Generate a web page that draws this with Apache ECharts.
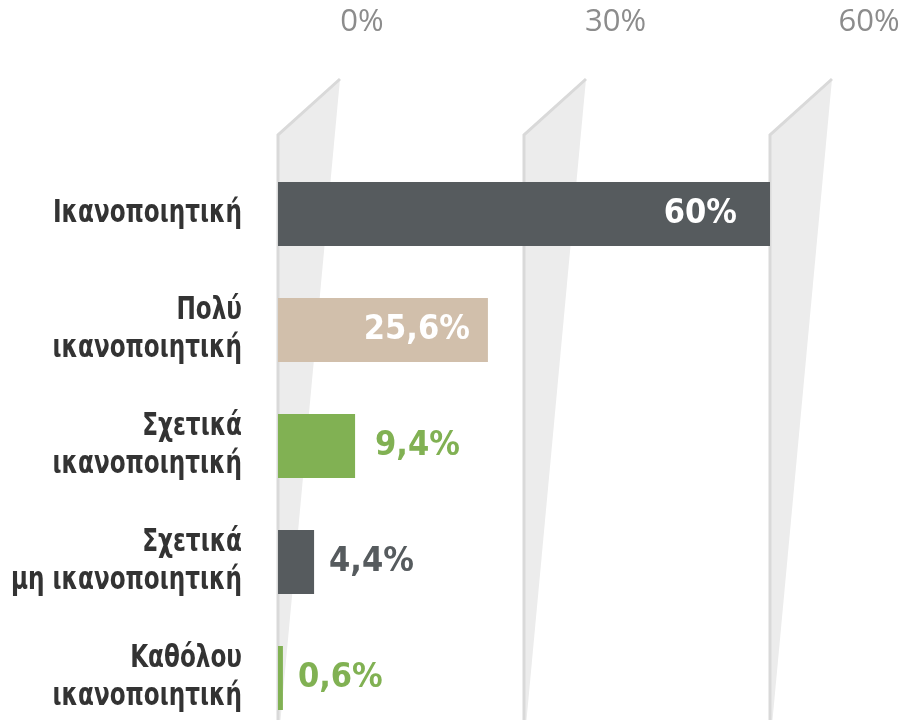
<!DOCTYPE html>
<html>
<head>
<meta charset="UTF-8">
<title>Ικανοποίηση</title>
<script src="https://cdn.jsdelivr.net/npm/echarts@6/dist/echarts.min.js"></script>
<style>
  html, body { margin: 0; padding: 0; background: #fff; }
  #main { width: 903px; height: 720px; }
</style>
</head>
<body>
<div id="main"></div>
<script type="text/javascript">
// κατηγορίες και τιμές
var categories = ['Ικανοποιητική', 'Πολύ\nικανοποιητική', 'Σχετικά\nικανοποιητική', 'Σχετικά\nμη ικανοποιητική', 'Καθόλου\nικανοποιητική'];
var values = [60, 25.6, 9.4, 4.4, 0.6];
var barColors = ['#565b5e', '#d1bfab', '#81b153', '#565b5e', '#81b153'];
var tickValues = [0, 30, 60];
var tickLabels = ['0%', '30%', '60%'];

var font = '"DejaVu Sans Condensed"';

function fmt(v) {
  return String(v).replace('.', ',') + '%';
}

var barData = values.map(function (v, i) {
  var inside = i < 2;
  return {
    value: v,
    itemStyle: { color: barColors[i] },
    label: {
      show: true,
      position: inside ? 'insideRight' : 'right',
      distance: i == 0 ? 33 : (i == 1 ? 18 : (i == 2 ? 20 : 15)),
      color: inside ? '#fff' : barColors[i],
      fontFamily: font,
      fontWeight: 'bold',
      fontSize: 34,
      formatter: function (p) { return fmt(p.value); }
    }
  };
});

var myChart = echarts.init(document.getElementById('main'));

var option = {
  animation: false,
  grid: { left: 278, right: 133, top: 156, bottom: -16, containLabel: false, outerBoundsMode: 'none' },
  xAxis: {
    type: 'value',
    min: 0,
    max: 60,
    interval: 30,
    axisLine: { show: false },
    axisTick: { show: false },
    axisLabel: { show: false },
    splitLine: { show: false }
  },
  yAxis: {
    type: 'category',
    inverse: true,
    data: categories,
    axisLine: { show: false },
    axisTick: { show: false },
    axisLabel: { show: false }
  },
  series: [
    {
      // κάθετες γραμμές με τη "σκιά"
      type: 'custom',
      clip: false,
      z: 1,
      silent: true,
      data: tickValues.map(function (v, i) { return [v, i]; }),
      renderItem: function (params, api) {
        var cs = params.coordSys;
        var v = api.value(0);
        var x = api.coord([v, 0])[0];
        var top = cs.y - 21;
        var peak = cs.y - 77;
        var bottom = cs.y + cs.height;
        return {
          type: 'group',
          children: [
            {
              type: 'polygon',
              shape: { points: [[x, top], [x + 62, peak], [x + 1, bottom], [x, bottom]] },
              style: { fill: '#ececec' }
            },
            {
              type: 'polyline',
              shape: { points: [[x + 62, peak], [x, top], [x, bottom]] },
              style: { stroke: '#d9d9d9', lineWidth: 3, fill: null }
            },
            {
              type: 'text',
              x: x + 84 + v * 0.25,
              y: cs.y - 134,
              style: {
                text: tickLabels[params.dataIndex],
                fill: '#8c8c8c',
                fontFamily: '"Open Sans"',
                fontSize: 31,
                align: 'center',
                verticalAlign: 'middle'
              }
            }
          ]
        };
      }
    },
    {
      // ετικέτες κατηγοριών (στενεμένες)
      type: 'custom',
      clip: false,
      z: 3,
      silent: true,
      data: categories.map(function (c, i) { return [0, i]; }),
      renderItem: function (params, api) {
        var cs = params.coordSys;
        var y = api.coord([0, api.value(1)])[1];
        return {
          type: 'text',
          x: cs.x - 36,
          y: y,
          scaleX: 0.83,
          style: {
            text: categories[params.dataIndex],
            fill: '#333',
            fontFamily: font,
            fontWeight: 'bold',
            fontSize: 31,
            lineHeight: 38,
            align: 'right',
            verticalAlign: 'middle'
          }
        };
      }
    },
    {
      type: 'bar',
      z: 2,
      barWidth: 64,
      data: barData
    }
  ]
};
myChart.setOption(option);
</script>
</body>
</html>
